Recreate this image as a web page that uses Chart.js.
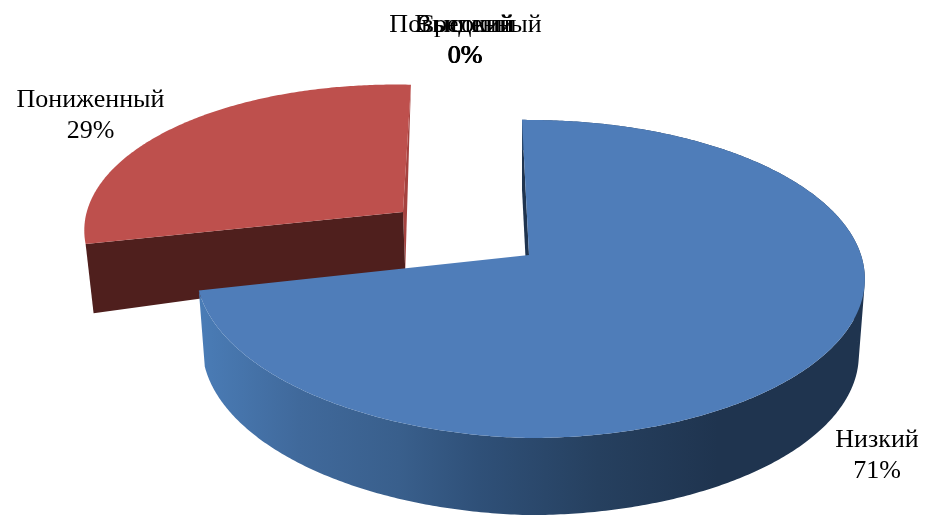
<!DOCTYPE html>
<html><head><meta charset="utf-8">
<style>html,body{margin:0;padding:0;background:#fff}canvas{display:block}</style>
<script src="https://cdn.jsdelivr.net/npm/chart.js@4"></script>
</head><body>
<canvas id="c" width="925" height="515"></canvas>
<script>
const categories = ['Низкий','Пониженный','Средний','Повышенный','Высокий'];
const values = [71,29,0,0,0];
const percentLabels = ['71%','29%','0%','0%','0%'];
const topColors = ['#4f7db9','#be504d','#9bbb59','#8064a2','#4bacc6'];
const explode = [0,0.5,0,0,0];
const labelPos = [[877,447],[90.5,107],[465,32],[465.5,32],[464.5,32]];

// Perspective view of each slice of the pie disc
const views = [
  {cx:529, cy:255, a:155.4, p:0.151, bR:332, bL:329, shrink:0.982, skew:9},
  {cx:529, cy:260, a:155.9, p:0.138, bR:334, bL:326, shrink:0.982, skew:9}
];
function depth(v){ return v>=0.14 ? 76+(v-0.14)*1.2 : Math.max(0,76-(0.14-v)*40); }
function proj(view,u,v,z){
  const w=1-view.p*v;
  let x=u*(u>=0?view.bR:view.bL)/w, y=view.a*v/w;
  if(u<0) y+=view.skew*u;
  if(z){ x*=view.shrink; y+=depth(v); }
  return [view.cx+x, view.cy+y];
}
function arcPts(view,s,e,ox,oy,z){
  const n=Math.max(2,Math.ceil(Math.abs(e-s)/0.01)), pts=[];
  for(let i=0;i<=n;i++){ const t=s+(e-s)*i/n; pts.push(proj(view,Math.cos(t)+ox,Math.sin(t)+oy,z)); }
  return pts;
}
function poly(ctx,pts,fill){
  ctx.beginPath(); pts.forEach((p,i)=>i?ctx.lineTo(p[0],p[1]):ctx.moveTo(p[0],p[1]));
  ctx.closePath(); ctx.fillStyle=fill; ctx.fill();
}
function band(ctx,top,bot,fill){
  // union of quads with a consistent winding, so the outline keeps its straight side edges
  ctx.beginPath();
  for(let i=0;i<top.length-1;i++){
    let q=[top[i],top[i+1],bot[i+1],bot[i]], area=0;
    q.forEach((p,k)=>{const r=q[(k+1)%4]; area+=p[0]*r[1]-r[0]*p[1];});
    if(area<0) q=q.reverse();
    q.forEach((p,k)=>k?ctx.lineTo(p[0],p[1]):ctx.moveTo(p[0],p[1]));
    ctx.closePath();
  }
  ctx.fillStyle=fill; ctx.fill();
}
const pie3d = {
  id:'pie3d',
  beforeDatasetsDraw(chart){
    const ctx=chart.ctx, arcs=chart.getDatasetMeta(0).data;
    // the exploded (back) slice first, then the main one
    [1,0].forEach(i=>{
      const arc=arcs[i], s=arc.startAngle, e=arc.endAngle, view=views[i];
      const mid=(s+e)/2, ox=Math.cos(mid)*explode[i], oy=Math.sin(mid)*explode[i];
      const top=arcPts(view,s,e,ox,oy,0), bot=arcPts(view,s,e,ox,oy,1);
      const c0=proj(view,ox,oy,0), c1=proj(view,ox,oy,1);
      ctx.save();
      if(i===1){
        poly(ctx,[top[top.length-1],c0,c1],'#a5423f');
        poly(ctx,[top[0],c0,c1,bot[0]],'#4f1f1d');
      } else {
        poly(ctx,[top[0],c0,c1,[top[0][0],top[0][1]+70]],'#1f344f');
        const g=ctx.createLinearGradient(200,0,864,0);
        [[0,'#4a7cb6'],[0.15,'#40699b'],[0.3,'#395f8c'],[0.42,'#2f5078'],[0.6,'#26405f'],[0.78,'#1f344f'],[1,'#1f344f']]
          .forEach(a=>g.addColorStop(a[0],a[1]));
        band(ctx,top,bot,g);
      }
      poly(ctx,[c0].concat(top),arc.options.backgroundColor);
      ctx.restore();
    });
    return false;
  },
  afterDraw(chart){
    const ctx=chart.ctx;
    ctx.save();
    ctx.font='26px "Liberation Serif"'; ctx.fillStyle='#000'; ctx.textAlign='center'; ctx.textBaseline='alphabetic';
    categories.forEach((c,i)=>{
      ctx.fillText(c,labelPos[i][0],labelPos[i][1]);
      ctx.fillText(percentLabels[i],labelPos[i][0],labelPos[i][1]+31);
    });
    ctx.restore();
  }
};
new Chart(document.getElementById('c'),{
  type:'pie',
  data:{labels:categories,datasets:[{data:values,backgroundColor:topColors,borderWidth:0}]},
  options:{responsive:false,animation:false,rotation:-1.4,
    plugins:{legend:{display:false},tooltip:{enabled:false}}},
  plugins:[pie3d]
});
</script>
</body></html>
